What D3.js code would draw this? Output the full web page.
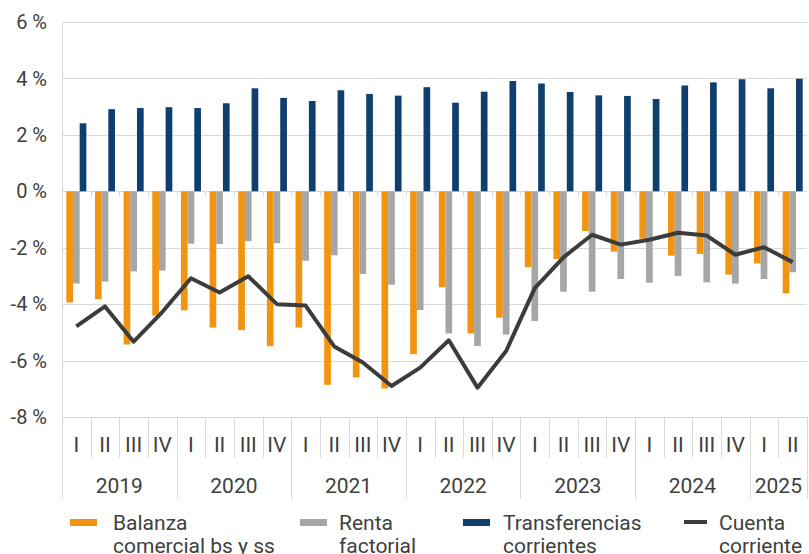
<!DOCTYPE html>
<html>
<head>
<meta charset="utf-8">
<script src="https://cdn.jsdelivr.net/npm/d3@7"></script>
<style>
  html, body { margin: 0; padding: 0; background: #fff; }
  svg { display: block; font-family: Roboto, "Noto Sans", sans-serif; }
</style>
</head>
<body>
<svg id="chart" width="809" height="554"></svg>
<script>
// Quarters 2019 I .. 2025 II
const years = ['2019', '2020', '2021', '2022', '2023', '2024', '2025'];
const quarterNames = ['I', 'II', 'III', 'IV'];
const categories = [];
years.forEach(y => quarterNames.forEach(q => {
    if (categories.length < 26) categories.push({ year: y, q: q, key: y + '-' + q });
}));

// Values in % of GDP
const balanza = [-3.94, -3.83, -5.43, -4.41, -4.22, -4.83, -4.92, -5.49, -4.83, -6.86, -6.60, -6.99,
    -5.77, -3.40, -5.04, -4.48, -2.69, -2.40, -1.41, -2.14, -1.68, -2.28, -2.22, -2.95, -2.56, -3.62];
const renta = [-3.27, -3.20, -2.84, -2.81, -1.86, -1.87, -1.77, -1.84, -2.46, -2.27, -2.93, -3.31,
    -4.21, -5.04, -5.48, -5.08, -4.60, -3.56, -3.56, -3.11, -3.24, -3.00, -3.23, -3.27, -3.11, -2.87];
const transferencias = [2.41, 2.91, 2.95, 2.98, 2.95, 3.12, 3.65, 3.31, 3.20, 3.58, 3.45, 3.39,
    3.69, 3.14, 3.53, 3.91, 3.82, 3.52, 3.40, 3.38, 3.27, 3.75, 3.86, 3.97, 3.65, 3.99];
const cuenta = [-4.79, -4.08, -5.33, -4.28, -3.08, -3.59, -3.01, -4.00, -4.05, -5.50, -6.07, -6.90,
    -6.25, -5.28, -6.96, -5.66, -3.43, -2.34, -1.54, -1.89, -1.72, -1.47, -1.57, -2.25, -1.98, -2.51];

const yTicks = [6, 4, 2, 0, -2, -4, -6, -8];

const barSeries = [
    { name: 'Balanza comercial bs y ss', lines: ['Balanza', 'comercial bs y ss'], values: balanza, color: '#F39410' },
    { name: 'Renta factorial', lines: ['Renta', 'factorial'], values: renta, color: '#A6A6A6' },
    { name: 'Transferencias corrientes', lines: ['Transferencias', 'corrientes'], values: transferencias, color: '#0F3F6E' }
];
const lineColor = '#3C3C3C';
const textColor = '#404040';
const gridColor = '#D9D9D9';

const svg = d3.select('#chart');
const plotLeft = 62, plotRight = 807, plotTop = 22, plotBottom = 417;

const x = d3.scaleBand()
    .domain(categories.map(d => d.key))
    .range([plotLeft, plotRight])
    .padding(0);

const xInner = d3.scaleBand()
    .domain(barSeries.map(d => d.name))
    .range([4.3, x.bandwidth() - 4.3])
    .padding(0);

const y = d3.scaleLinear()
    .domain([-8, 6])
    .range([plotBottom, plotTop]);

// Gridlines
svg.append('g')
    .selectAll('line')
    .data(yTicks)
    .join('line')
    .attr('x1', plotLeft)
    .attr('x2', plotRight)
    .attr('y1', d => Math.round(y(d)) + 0.5)
    .attr('y2', d => Math.round(y(d)) + 0.5)
    .attr('stroke', gridColor)
    .attr('stroke-width', 1);

// Y axis line and labels
svg.append('line')
    .attr('x1', plotLeft + 0.5).attr('x2', plotLeft + 0.5)
    .attr('y1', plotTop).attr('y2', plotBottom)
    .attr('stroke', gridColor);

svg.append('g')
    .selectAll('text')
    .data(yTicks)
    .join('text')
    .attr('x', 47)
    .attr('y', d => y(d))
    .attr('dy', '0.36em')
    .attr('text-anchor', 'end')
    .attr('font-size', 20)
    .attr('fill', textColor)
    .text(d => d + ' %');

// Small tick marks below zero line
svg.append('g')
    .selectAll('line')
    .data(categories)
    .join('line')
    .attr('x1', d => Math.round(x(d.key)) + 0.5)
    .attr('x2', d => Math.round(x(d.key)) + 0.5)
    .attr('y1', y(0))
    .attr('y2', y(0) + 5)
    .attr('stroke', gridColor);

// Bars
barSeries.forEach(s => {
    svg.append('g')
        .selectAll('rect')
        .data(s.values)
        .join('rect')
        .attr('x', (d, i) => x(categories[i].key) + xInner(s.name))
        .attr('width', xInner.bandwidth())
        .attr('y', d => y(Math.max(0, d)))
        .attr('height', d => Math.abs(y(d) - y(0)))
        .attr('fill', s.color);
});

// Cuenta corriente line
const line = d3.line()
    .x((d, i) => x(categories[i].key) + x.bandwidth() / 2)
    .y(d => y(d));

svg.append('path')
    .datum(cuenta)
    .attr('d', line)
    .attr('fill', 'none')
    .attr('stroke', lineColor)
    .attr('stroke-width', 4)
    .attr('stroke-linejoin', 'round');

// Category axis: quarter separators, labels, years
const axisG = svg.append('g');
axisG.append('line')
    .attr('x1', plotLeft).attr('x2', plotRight)
    .attr('y1', plotBottom + 0.5).attr('y2', plotBottom + 0.5)
    .attr('stroke', gridColor);

const bounds = categories.map(d => x(d.key)).concat([plotRight]);
axisG.selectAll('line.qsep')
    .data(bounds)
    .join('line')
    .attr('class', 'qsep')
    .attr('x1', d => Math.round(d) + 0.5)
    .attr('x2', d => Math.round(d) + 0.5)
    .attr('y1', plotBottom)
    .attr('y2', 458)
    .attr('stroke', gridColor);

axisG.selectAll('text.q')
    .data(categories)
    .join('text')
    .attr('class', 'q')
    .attr('x', d => x(d.key) + x.bandwidth() / 2)
    .attr('y', 452)
    .attr('text-anchor', 'middle')
    .attr('font-size', 21)
    .attr('fill', textColor)
    .text(d => d.q);

const yearGroups = d3.groups(categories, d => d.year).map(([yr, qs]) => ({
    year: yr,
    x0: x(qs[0].key),
    x1: x(qs[qs.length - 1].key) + x.bandwidth()
}));

axisG.selectAll('line.ysep')
    .data(yearGroups.map(d => d.x0).concat([plotRight]))
    .join('line')
    .attr('class', 'ysep')
    .attr('x1', d => Math.round(d) + 0.5)
    .attr('x2', d => Math.round(d) + 0.5)
    .attr('y1', 458)
    .attr('y2', 499)
    .attr('stroke', gridColor);

axisG.selectAll('text.yr')
    .data(yearGroups)
    .join('text')
    .attr('class', 'yr')
    .attr('x', d => (d.x0 + d.x1) / 2)
    .attr('y', 493)
    .attr('text-anchor', 'middle')
    .attr('font-size', 21)
    .attr('fill', textColor)
    .text(d => d.year);

// Legend
const legendItems = [
    { lines: barSeries[0].lines, color: barSeries[0].color, type: 'rect', sx: 70, tx: 113 },
    { lines: barSeries[1].lines, color: barSeries[1].color, type: 'rect', sx: 300, tx: 339 },
    { lines: barSeries[2].lines, color: barSeries[2].color, type: 'rect', sx: 463, tx: 503 },
    { lines: ['Cuenta', 'corriente'], color: lineColor, type: 'line', sx: 684, tx: 719 }
];

const legend = svg.append('g');
legendItems.forEach(item => {
    if (item.type === 'rect') {
        legend.append('rect')
            .attr('x', item.sx).attr('y', 519)
            .attr('width', 27).attr('height', 7)
            .attr('fill', item.color);
    } else {
        legend.append('rect')
            .attr('x', item.sx).attr('y', 520)
            .attr('width', 23).attr('height', 4)
            .attr('fill', item.color);
    }
    const t = legend.append('text')
        .attr('x', item.tx)
        .attr('y', 530)
        .attr('font-size', 21)
        .attr('fill', textColor);
    item.lines.forEach((l, i) => {
        t.append('tspan')
            .attr('x', item.tx)
            .attr('dy', i === 0 ? 0 : 23)
            .text(l);
    });
});
</script>
</body>
</html>
